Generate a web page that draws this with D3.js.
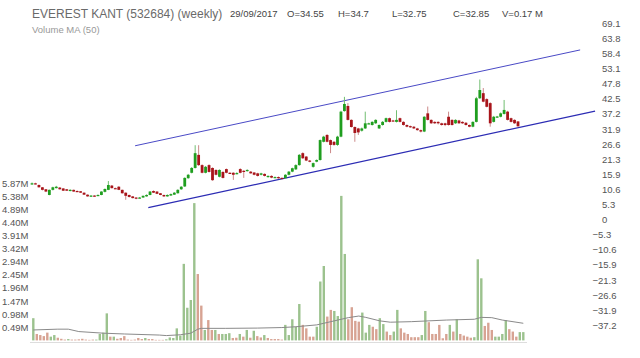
<!DOCTYPE html>
<html><head><meta charset="utf-8">
<script src="https://cdn.jsdelivr.net/npm/d3@7"></script>
<style>
body{margin:0;background:#fff}
svg{display:block}
text{font-family:"Liberation Sans",Arial,sans-serif}
</style>
</head><body>
<svg id="chart" width="640" height="358"></svg>
<script>
// ---------- DATA ----------
const openP = [12.5,12.8,12.2,11.4,10.7,8.7,10.5,11.1,11.3,11.0,10.7,10.1,10.5,10.1,10.0,9.5,8.8,8.1,8.5,8.4,
8.7,9.8,10.5,12.0,11.1,11.6,10.5,9.5,8.7,8.2,7.8,7.6,7.8,8.2,8.7,10.1,9.9,9.3,8.7,8.2,
8.5,8.8,9.3,10.7,11.7,14.6,16.5,18.2,22.8,19.2,16.5,19.2,18.2,17.5,15.1,16.8,17.8,16.5,16.5,16.2,
17.8,17.2,17.1,16.9,16.6,16.3,15.8,16.1,15.0,15.4,14.9,15.0,14.7,14.6,15.8,16.9,17.7,19.2,23.4,22.2,
20.8,18.6,20.4,21.0,27.4,29.8,28.0,27.4,26.3,29.2,38.2,40.0,35.1,32.6,32.1,31.3,32.1,33.8,33.3,33.9,
32.1,33.3,34.4,35.7,34.9,34.4,35.7,34.4,33.3,32.9,32.7,32.1,31.5,31.0,37.4,35.1,34.4,34.4,33.9,33.9,
36.2,35.1,33.9,34.9,34.4,34.1,33.3,32.7,34.4,42.7,44.5,42.4,41.0,34.4,36.0,36.2,37.2,38.0,35.7,35.1,34.55];
const highP = [13.1,13.0,12.4,11.5,10.8,10.6,11.6,11.9,11.5,11.1,10.8,10.7,10.6,10.3,10.1,9.6,8.9,8.6,8.6,8.9,
10.0,11.0,13.6,12.2,11.3,11.8,10.6,9.6,8.8,8.3,7.9,8.0,8.5,8.9,10.1,10.3,10.0,9.4,8.8,8.9,
9.2,9.7,10.7,11.8,14.9,16.1,18.5,26.2,26.2,19.5,18.9,19.5,18.4,17.7,17.7,17.0,18.0,16.7,16.7,16.7,
18.1,17.4,17.7,17.1,16.7,16.5,16.5,16.3,15.6,15.6,15.2,15.2,14.9,16.0,17.1,18.3,19.5,23.1,23.7,22.4,
21.0,20.1,21.2,28.2,29.5,30.1,28.2,27.6,29.5,38.3,43.2,41.0,35.3,32.8,32.3,32.4,38.0,34.1,34.6,35.3,
33.5,34.7,35.9,35.9,35.1,38.5,35.9,34.6,33.5,33.1,32.9,32.3,31.7,36.4,39.8,35.3,34.6,34.6,34.1,34.1,
38.0,35.3,35.3,35.1,34.6,34.3,33.5,34.6,43.2,49.3,46.3,42.7,41.3,36.5,36.5,37.7,42.1,38.3,35.9,35.3,34.7];
const lowP = [12.3,12.4,11.3,10.3,9.7,8.6,10.3,11.0,10.6,10.1,10.1,10.0,9.8,9.8,9.4,8.7,8.1,8.0,8.1,8.3,
8.6,9.6,10.4,11.0,10.8,10.4,9.2,7.0,7.8,7.5,7.2,7.5,7.7,8.1,8.6,9.4,9.0,8.6,8.0,8.1,
8.4,8.7,9.2,10.5,11.5,14.4,16.3,18.0,18.9,16.3,16.3,16.6,13.7,15.6,14.9,14.5,16.3,16.2,14.0,16.0,
16.3,14.7,16.9,16.2,15.6,15.2,15.6,15.2,14.8,14.6,14.7,14.4,14.3,14.4,15.6,16.7,17.5,19.0,21.4,20.6,
20.2,18.3,20.2,20.8,27.2,27.2,23.4,26.0,26.0,29.0,38.0,34.9,32.4,27.4,29.8,31.0,31.9,33.6,33.1,33.7,
31.9,33.1,34.2,34.2,34.6,34.2,34.2,33.1,32.5,32.3,31.9,31.3,30.7,30.8,34.9,33.7,33.7,33.5,33.1,32.9,
33.1,33.1,33.7,33.7,33.7,33.1,32.5,32.5,34.2,42.5,41.3,39.5,32.7,34.2,35.8,36.0,37.0,34.9,34.2,33.7,32.75];
const closeP = [12.8,12.6,11.4,10.5,9.9,10.5,11.4,11.6,10.7,10.2,10.2,10.5,9.9,10.0,9.5,8.8,8.2,8.5,8.3,8.7,
9.9,10.8,12.2,11.1,11.0,10.5,9.3,8.4,8.0,7.6,7.4,7.8,8.4,8.7,9.9,9.5,9.1,8.7,8.2,8.7,
9.0,9.5,10.5,11.6,14.7,15.8,18.2,23.4,19.2,16.5,18.6,16.8,13.9,15.8,17.5,14.7,16.5,16.4,15.8,16.4,
16.5,17.1,17.5,16.3,15.8,15.4,16.3,15.4,15.4,14.8,15.0,14.6,14.5,15.8,16.9,18.1,19.2,22.8,21.6,20.8,
20.5,19.9,21.0,28.0,29.2,27.4,26.3,26.3,29.2,38.0,40.7,35.1,32.6,30.5,30.7,32.1,33.9,33.9,34.4,35.1,
33.3,34.4,35.7,34.4,34.8,35.1,34.4,33.3,32.7,32.5,32.1,31.5,31.0,36.2,35.1,33.9,33.9,33.9,33.3,33.3,
33.3,33.3,35.1,33.9,33.9,33.3,32.7,34.4,42.7,45.6,41.5,39.7,33.9,36.2,36.3,37.4,38.6,35.1,34.4,33.9,32.85];

const volume = [0.83,0.24,0.20,0.16,0.29,0.14,0.20,0.10,0.06,0.03,0.05,0.03,0.03,0.04,0.06,0.03,0.02,0.03,0.03,0.24,
0.29,1.01,0.14,0.14,0.06,0.09,0.16,0.03,0.02,0.03,0.09,0.05,0.09,0.05,0.05,0.02,0.02,0.02,0.04,0.11,
0.09,0.45,0.18,2.86,1.22,1.51,5.13,2.48,1.30,0.39,0.76,0.39,0.39,0.24,0.24,0.24,0.27,0.09,0.10,0.24,
0.14,0.39,0.10,0.36,0.16,0.11,0.20,0.09,0.05,0.05,0.05,0.03,
0.58,0.20,0.79,0.51,1.36,0.58,0.45,0.14,0.14,0.51,2.20,2.78,0.89,1.14,1.10,0.91,5.40,3.23,0.79,1.24,
0.73,0.70,1.04,0.29,0.58,0.51,0.42,0.83,0.61,0.33,0.20,0.33,1.14,0.45,0.29,0.24,0.12,0.12,0.12,0.20,
1.10,0.68,0.24,0.24,0.58,0.08,0.24,0.58,0.33,0.79,0.24,0.18,0.14,0.10,0.12,3.03,2.32,0.54,0.66,0.39,
0.14,0.14,0.24,0.76,0.42,0.33,0.14,0.31,0.31];
const volumeDir = ("GRRRRGGRRRGRRRRRRRGGGGRGRRRRRRRRGRRRRRGGGGGGGGGRRGRRGRGGGRRGRGRGRRGRRRRR" +
  "GGGGGRRRRGGGRRGGGGRRRRGGGRRGGRRGGRRRRRRGGRRRRRRGRGRRRRGGGRRRGGGGRRRGG").split("");
const volumeMA = [[0,0.39],[7,0.42],[10,0.42],[13,0.33],[20,0.27],[26,0.24],[36,0.20],[38,0.18],[42,0.21],
[45,0.27],[47,0.42],[48,0.45],[55,0.45],[64,0.46],[71,0.48],[75,0.51],[81,0.58],[85,0.70],[90,0.85],
[93,0.91],[95,0.86],[99,0.73],[102,0.68],[108,0.70],[118,0.76],[126,0.79],[128,0.86],[131,0.85],
[134,0.76],[140,0.64]];
const priceTicks = [69.1,63.8,58.4,53.1,47.8,42.5,37.2,31.9,26.6,21.3,15.9,10.6,5.3,0,-5.3,-10.6,-15.9,-21.3,-26.6,-31.9,-37.2];
const volumeTicks = [0.49,0.98,1.47,1.96,2.45,2.94,3.42,3.91,4.40,4.89,5.38,5.87];
const channelUpper = [[29.7,26.0],[157.9,59.7]];
const channelLower = [[33.5,4.25],[162.2,38.2]];
const titleText = "EVEREST KANT (532684) (weekly)";
const infoItems = ["29/09/2017","O=34.55","H=34.7","L=32.75","C=32.85","V=0.17 M"];
const subtitleText = "Volume MA (50)";

// ---------- LAYOUT ----------
const svg = d3.select("#chart");
const n = closeP.length;
const xP = d3.scaleLinear().domain([0, n - 1]).range([32, 518]);
const xV = d3.scaleLinear().domain([0, n - 1]).range([33.3, 523.3]);
const yP = d3.scaleLinear().domain([-37.2, 69.1]).range([325.5, 23.2]);
const yV = d3.scaleLinear().domain([0, 5.87]).range([340.4, 183.3]);

svg.append("rect").attr("width", 640).attr("height", 358).attr("fill", "#fff");

// header
svg.append("text").attr("x", 32).attr("y", 18).attr("font-size", 12).attr("fill", "#6a6a6a").text(titleText);
const infoX = [230, 287, 338, 392, 453, 502];
svg.selectAll("text.info").data(infoItems).join("text").attr("class", "info")
  .attr("x", (d, i) => infoX[i]).attr("y", 17).attr("font-size", 9.5).attr("fill", "#444").text(d => d);
svg.append("text").attr("x", 32).attr("y", 33).attr("font-size", 9.5).attr("fill", "#999").text(subtitleText);

// right price axis
const axP = svg.append("g").attr("transform", "translate(602,0)")
  .call(d3.axisRight(yP).tickValues(priceTicks).tickSize(0).tickPadding(0)
    .tickFormat(d => d === 0 ? "0" : d3.format(".1f")(d)));
axP.select(".domain").remove();
axP.selectAll("text").attr("font-size", 9.5).attr("fill", "#555")
  .attr("font-family", "Liberation Sans, Arial, sans-serif")
  .attr("x", d => d < 0 ? -9.5 : 0);

// left volume axis
const axV = svg.append("g").attr("transform", "translate(2,0)")
  .call(d3.axisRight(yV).tickValues(volumeTicks).tickSize(0).tickPadding(0)
    .tickFormat(d => d3.format(".2f")(d) + "M"));
axV.select(".domain").remove();
axV.selectAll("text").attr("font-size", 9.5).attr("fill", "#555")
  .attr("font-family", "Liberation Sans, Arial, sans-serif");

// volume baseline
svg.append("line").attr("x1", 30).attr("x2", 527).attr("y1", 342.5).attr("y2", 342.5)
  .attr("stroke", "#ddd").attr("stroke-width", 1);

// volume bars
const idx = d3.range(n);
svg.append("g").selectAll("rect").data(idx).join("rect")
  .attr("x", i => xV(i) - 1.2).attr("width", 2.4)
  .attr("y", i => yV(volume[i])).attr("height", i => yV(0) - yV(volume[i]))
  .attr("fill", i => volumeDir[i] === "G" ? "#9cc28e" : "#d7a393");

// volume MA
svg.append("path").datum(volumeMA)
  .attr("d", d3.line().x(d => xV(d[0])).y(d => yV(d[1])))
  .attr("fill", "none").attr("stroke", "#8a8a8a").attr("stroke-width", 1);

// channel lines
const chLine = d3.line().x(d => xP(d[0])).y(d => yP(d[1]));
svg.append("path").datum(channelUpper).attr("d", chLine)
  .attr("fill", "none").attr("stroke", "#4a4ac6").attr("stroke-width", 1);
svg.append("path").datum(channelLower).attr("d", chLine)
  .attr("fill", "none").attr("stroke", "#2c2cb4").attr("stroke-width", 1.2);

// candles
const up = i => closeP[i] >= openP[i];
const cg = svg.append("g");
cg.selectAll("line").data(idx).join("line")
  .attr("x1", i => xP(i)).attr("x2", i => xP(i))
  .attr("y1", i => yP(highP[i])).attr("y2", i => yP(lowP[i]))
  .attr("stroke", i => up(i) ? "#72be72" : "#cc8a8a").attr("stroke-width", 1);
cg.selectAll("rect").data(idx).join("rect")
  .attr("x", i => xP(i) - 1.4).attr("width", 2.8)
  .attr("y", i => yP(Math.max(openP[i], closeP[i])))
  .attr("height", i => Math.max(1.2, Math.abs(yP(openP[i]) - yP(closeP[i]))))
  .attr("fill", i => up(i) ? "#1f9e1f" : "#a8141a");
</script>
</body></html>
